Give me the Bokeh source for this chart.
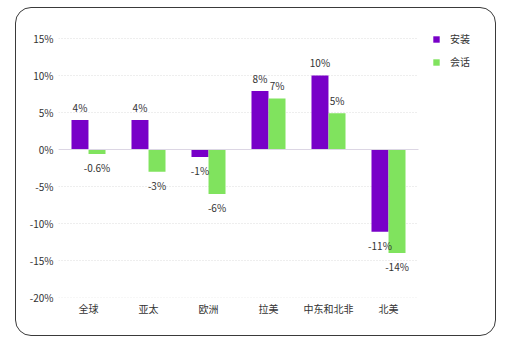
from bokeh.plotting import figure
from bokeh.models import (ColumnDataSource, FactorRange, FixedTicker, PrintfTickFormatter,
                          LabelSet, Legend, LegendItem)
from bokeh.transform import dodge
from bokeh.core.properties import value
from bokeh.embed import file_html
from bokeh.resources import INLINE

regions = ["全球", "亚太", "欧洲", "拉美", "中东和北非", "北美"]
installs = [4, 4, -1, 7.9, 10, -11.1]
sessions = [-0.6, -3, -6, 6.9, 4.9, -14]
install_labels = ["4%", "4%", "-1%", "8%", "10%", "-11%"]
session_labels = ["-0.6%", "-3%", "-6%", "7%", "5%", "-14%"]
y_ticks = [-20, -15, -10, -5, 0, 5, 10, 15]

PURPLE = "#7800c8"
GREEN = "#80e35e"
FONT = "Noto Sans CJK SC"

src = ColumnDataSource(dict(region=regions, inst=installs, sess=sessions))


def label_src(vals, lbls, positive):
    idx = [i for i, v in enumerate(vals) if (v >= 0) == positive]
    return ColumnDataSource(dict(region=[regions[i] for i in idx],
                                 y=[vals[i] for i in idx],
                                 t=[lbls[i] for i in idx]))


# an empty trailing factor leaves room for the legend at the right
factors = regions + [" "]
p = figure(width=481, height=329, x_range=FactorRange(*factors, range_padding=0),
           y_range=(-20, 16.08), output_backend="svg", toolbar_location=None,
           min_border_left=42, min_border_right=19, min_border_top=22, min_border_bottom=40,
           styles={"margin-left": "15px", "margin-top": "7px",
                   "border": "1.5px solid #3a3a3a", "border-radius": "16px"})
p.outline_line_color = None
p.background_fill_color = "white"
p.border_fill_color = None
p.xgrid.grid_line_color = None
p.ygrid.grid_line_color = None

# horizontal grid lines over the category span only
grid_src = ColumnDataSource(dict(a=[regions[0]] * len(y_ticks), b=[regions[-1]] * len(y_ticks),
                                 y=y_ticks))
p.segment(x0=dodge("a", -0.5, range=p.x_range), x1=dodge("b", 0.5, range=p.x_range),
          y0="y", y1="y", source=grid_src, line_color="#dddddd", line_width=1,
          line_dash="1 2")

bw = 0.283
off = 0.142
r1 = p.vbar(x=dodge("region", -off, range=p.x_range), top="inst", bottom=0, width=bw,
            source=src, fill_color=PURPLE, line_color=None)
r2 = p.vbar(x=dodge("region", off, range=p.x_range), top="sess", bottom=0, width=bw,
            source=src, fill_color=GREEN, line_color=None)

zero_src = ColumnDataSource(dict(a=[regions[0]], b=[regions[-1]], y=[0]))
p.segment(x0=dodge("a", -0.5, range=p.x_range), x1=dodge("b", 0.5, range=p.x_range),
          y0="y", y1="y", source=zero_src, line_color="#dcd6e4", line_width=1)

lbl_kw = dict(text_font=value(FONT), text_font_size="10px", text_color="#333333",
              text_align="center")
for vals, lbls, sign in ((installs, install_labels, -1), (sessions, session_labels, 1)):
    xd = dodge("region", sign * off, range=p.x_range)
    p.add_layout(LabelSet(x=xd, y="y", text="t", source=label_src(vals, lbls, True),
                          text_baseline="bottom", y_offset=5, **lbl_kw))
    p.add_layout(LabelSet(x=xd, y="y", text="t", source=label_src(vals, lbls, False),
                          text_baseline="top", y_offset=-6, **lbl_kw))

p.yaxis.ticker = FixedTicker(ticks=y_ticks)
p.yaxis.formatter = PrintfTickFormatter(format="%d%%")
for ax in (p.xaxis, p.yaxis):
    ax.axis_line_color = None
    ax.major_tick_line_color = None
    ax.minor_tick_line_color = None
    ax.major_tick_out = 0
    ax.major_tick_in = 0
    ax.major_label_text_font = FONT
    ax.major_label_text_font_size = "10px"
    ax.major_label_text_color = "#333333"
p.yaxis.major_label_standoff = 5
p.xaxis.major_label_standoff = 3

legend = Legend(items=[LegendItem(label="安装", renderers=[r1]),
                       LegendItem(label="会话", renderers=[r2])],
                location=(374, 228), padding=0, margin=0, spacing=8,
                glyph_width=8, glyph_height=8, label_height=15, label_standoff=10,
                label_text_font=FONT, label_text_font_size="10px", label_text_color="#333333",
                border_line_color=None, background_fill_alpha=0)
p.add_layout(legend, "center")

open("out.html", "w").write(file_html(p, INLINE))
